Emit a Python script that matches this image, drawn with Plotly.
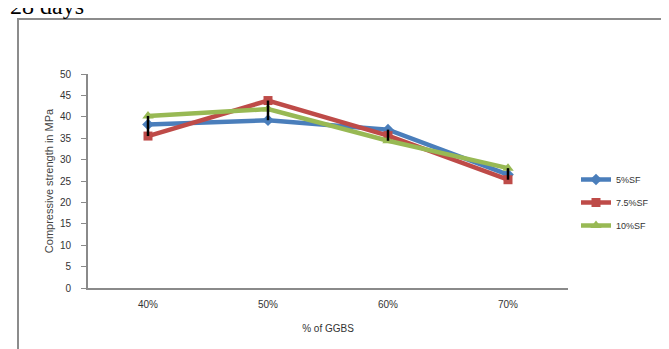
import plotly.graph_objects as go

categories = ["40%", "50%", "60%", "70%"]
sf5 = [38.2, 39.2, 37.0, 26.5]
sf75 = [35.5, 43.8, 35.6, 25.3]
sf10 = [40.2, 41.8, 34.4, 28.0]
series_names = ["5%SF", "7.5%SF", "10%SF"]
y_ticks = [0, 5, 10, 15, 20, 25, 30, 35, 40, 45, 50]

W, H = 669, 349
L, R, T, B = 80, 109, 66, 69
pw, ph = W - L - R, H - T - B

def px(x):
    return (x - L) / pw

def py(y):
    return (H - B - y) / ph

fig = go.Figure()
styles = [
    ("#4A7EBB", "diamond", 9),
    ("#BE4B48", "square", 9),
    ("#98B954", "triangle-up", 10),
]
for name, vals, (col, sym, sz) in zip(series_names, [sf5, sf75, sf10], styles):
    fig.add_trace(go.Scatter(
        x=categories, y=vals, name=name, mode="lines+markers",
        line=dict(color=col, width=4.5),
        marker=dict(color=col, symbol=sym, size=sz),
        legendgroup=name,
    ))

hi = [max(v) for v in zip(sf5, sf75, sf10)]
lo = [min(v) for v in zip(sf5, sf75, sf10)]
fig.add_trace(go.Scatter(
    x=categories, y=hi, mode="markers", showlegend=False,
    marker=dict(size=1, color="rgba(0,0,0,0)"),
    error_y=dict(type="data", symmetric=False,
                 array=[0] * len(hi),
                 arrayminus=[h - l for h, l in zip(hi, lo)],
                 color="black", thickness=2.5, width=0),
    hoverinfo="skip",
))

fig.update_layout(
    width=W, height=H,
    margin=dict(l=L, r=R, t=T, b=B),
    paper_bgcolor="white", plot_bgcolor="white",
    font=dict(family="Liberation Sans, Arial, sans-serif", size=10, color="#333"),
    showlegend=True,
    legend=dict(x=px(568), y=py(157), xanchor="left", yanchor="top",
                font=dict(size=9, color="#333"), itemwidth=30,
                tracegroupgap=4, traceorder="grouped",
                bgcolor="rgba(0,0,0,0)"),
    xaxis=dict(
        type="category", showgrid=False, zeroline=False,
        showline=True, linecolor="#8a8a8a", linewidth=2,
        ticks="outside", ticklen=6, tickcolor="rgba(0,0,0,0)",
        tickfont=dict(size=10, color="#333"),
        title=dict(text="% of GGBS", font=dict(size=10, color="#333"), standoff=16),
        range=[-0.5, 3.5],
    ),
    yaxis=dict(
        range=[0, 50], tickvals=y_ticks, showgrid=False, zeroline=False,
        showline=True, linecolor="#8a8a8a", linewidth=2,
        ticks="outside", ticklen=5, tickcolor="#8a8a8a",
        ticklabelstandoff=8,
        tickfont=dict(size=10, color="#333"),
        title=dict(text="Compressive strength in MPa", font=dict(size=11, color="#444"), standoff=4),
    ),
    shapes=[dict(type="rect", xref="paper", yref="paper",
                 x0=px(10), x1=px(665), y0=py(355), y1=py(11),
                 line=dict(color="#8c8c8c", width=2), fillcolor="rgba(0,0,0,0)")],
    annotations=[dict(text="28 days", xref="paper", yref="paper",
                      x=px(0), y=py(13), xanchor="left", yanchor="bottom",
                      showarrow=False,
                      font=dict(family="Liberation Serif, Times New Roman, serif", size=24, color="black"))],
)

fig.write_html("out.html")
